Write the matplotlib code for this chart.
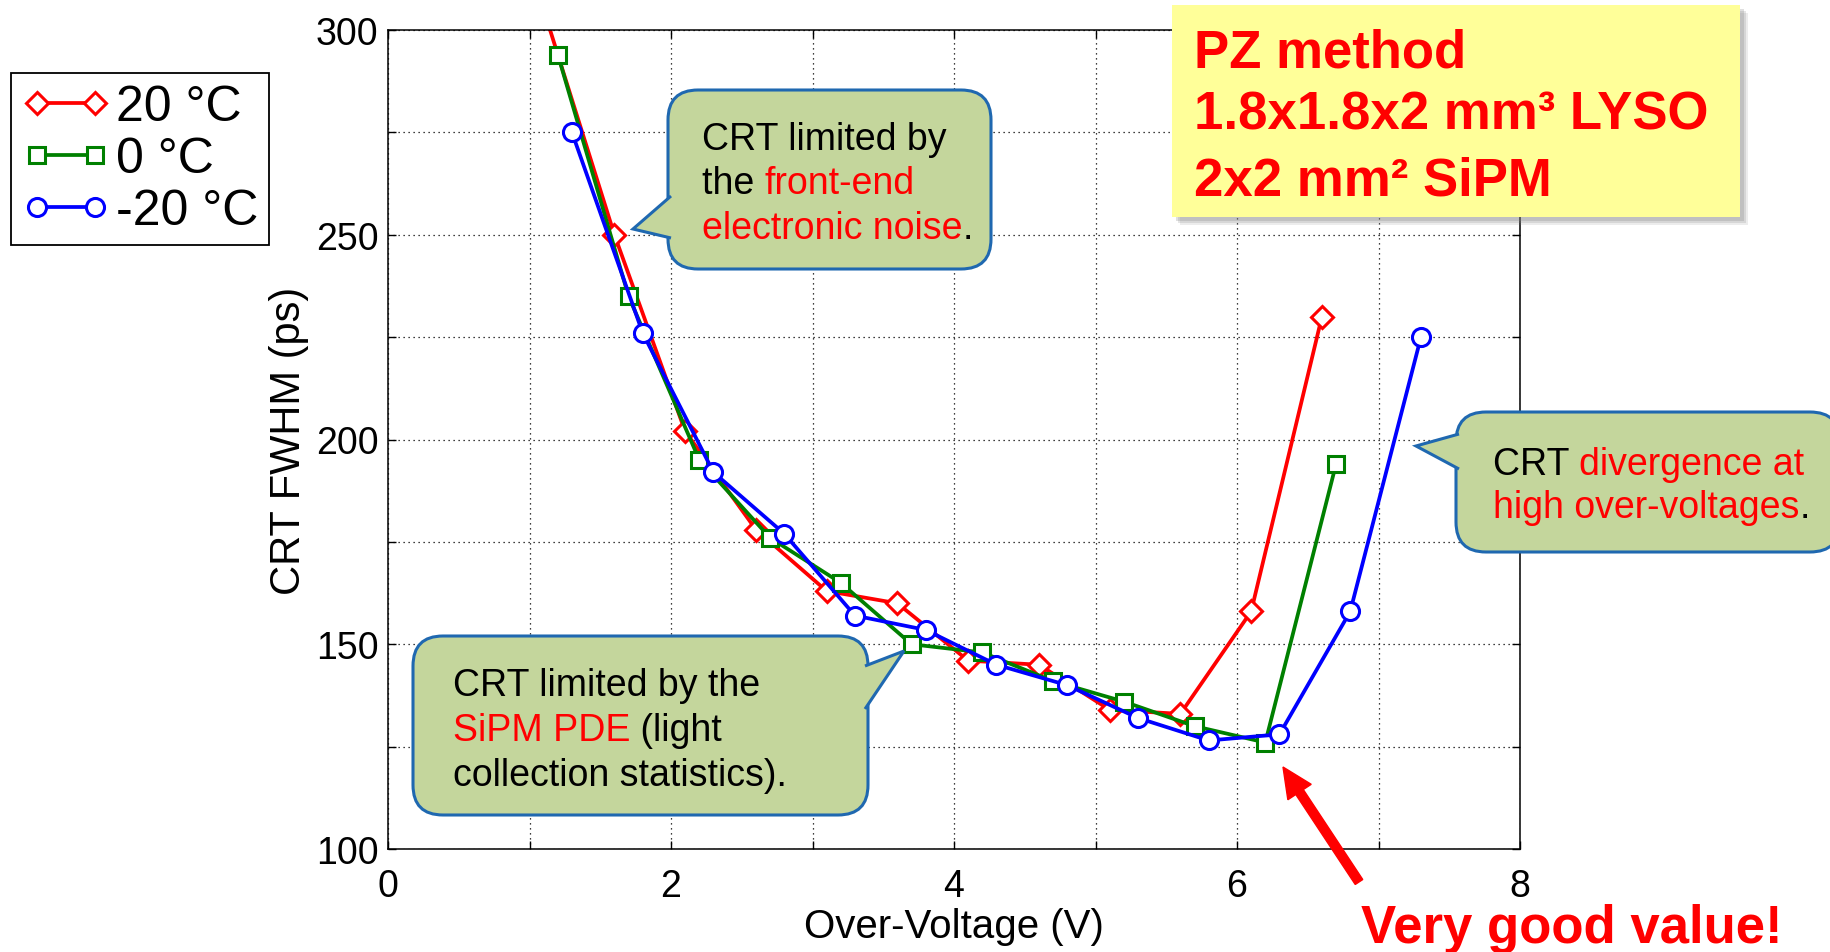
import matplotlib
matplotlib.use("Agg")
import matplotlib.pyplot as plt
from matplotlib.patches import FancyBboxPatch, Polygon, Rectangle, FancyArrow

plt.rcParams['font.family'] = ['Liberation Sans', 'DejaVu Sans']

# CRT FWHM (ps) vs over-voltage (V) for three temperatures
v_20 = [1.1, 1.6, 2.1, 2.6, 3.1, 3.6, 4.1, 4.6, 5.1, 5.6, 6.1, 6.6]
crt_20 = [305, 250, 202, 178, 163, 160, 146, 145, 134, 133, 158, 230]
v_0 = [1.2, 1.7, 2.2, 2.7, 3.2, 3.7, 4.2, 4.7, 5.2, 5.7, 6.2, 6.7]
crt_0 = [294, 235, 195, 176, 165, 150, 148, 141, 136, 130, 126, 194]
v_m20 = [1.3, 1.8, 2.3, 2.8, 3.3, 3.8, 4.3, 4.8, 5.3, 5.8, 6.3, 6.8, 7.3]
crt_m20 = [275, 226, 192, 177, 157, 153.5, 145, 140, 132, 126.5, 128, 158, 225]

labels = ["20 °C", "0 °C", "-20 °C"]
x_ticks = list(range(0, 9))
y_ticks = list(range(100, 301, 25))

W, H = 1830, 953
fig = plt.figure(figsize=(W / 100, H / 100), dpi=100)
ax = fig.add_axes([388 / W, 1 - 850 / H, (1520 - 388) / W, (850 - 31) / H])

ax.plot(v_20, crt_20, color="red", lw=2.7, marker="D", ms=11, mfc="white", mew=2.2, label=labels[0])
ax.plot(v_0, crt_0, color="#008000", lw=2.7, marker="s", ms=12, mfc="white", mew=2.2, label=labels[1])
ax.plot(v_m20, crt_m20, color="blue", lw=2.7, marker="o", ms=13, mfc="white", mew=2.2, label=labels[2])

ax.set_xlim(0, 8)
ax.set_ylim(100, 300)
ax.set_xticks(x_ticks)
ax.set_xticklabels([str(v) if v % 2 == 0 else "" for v in x_ticks])
ax.set_yticks(y_ticks)
ax.set_yticklabels([str(v) if v % 50 == 0 else "" for v in y_ticks])
ax.tick_params(direction="in", length=6, width=1, labelsize=27, top=True, right=True)
ax.tick_params(axis="x", pad=14)
ax.tick_params(axis="y", pad=7)
ax.grid(True, color="k", linestyle=(0, (1, 3)), linewidth=0.9)
for s in ax.spines.values():
    s.set_linewidth(1.1)
ax.set_xlabel("Over-Voltage (V)", fontsize=29, labelpad=2)
ax.set_ylabel("CRT FWHM (ps)", fontsize=30, labelpad=5)

leg = ax.legend(loc="upper left", bbox_to_anchor=(11 / W, 1 - 74 / H), bbox_transform=fig.transFigure,
                fontsize=36, numpoints=2, handlelength=1.75, handletextpad=0.12, labelspacing=0.12,
                borderpad=0.22, borderaxespad=0, fancybox=False, edgecolor="k", framealpha=1)
leg.get_frame().set_linewidth(1.3)

# overlay in pixel coordinates for the annotations
ov = fig.add_axes([0, 0, 1, 1], zorder=10)
ov.set_xlim(0, W)
ov.set_ylim(H, 0)
ov.axis("off")
ov.patch.set_visible(False)

FILL = "#C4D69C"
EDGE = "#1F68B0"
renderer = fig.canvas.get_renderer()


def text_width(s, **kw):
    t = ov.text(0, 0, s, **kw)
    w = t.get_window_extent(renderer=renderer).width
    t.remove()
    return w


def rich_line(x, y, parts, **kw):
    prefix = ""
    ref = text_width("I", **kw)
    for txt, col in parts:
        dx = text_width(prefix + "I", **kw) - ref if prefix else 0
        ov.text(x + dx, y, txt, color=col, va="baseline", ha="left", zorder=8, **kw)
        prefix += txt


def callout(x0, y0, x1, y1, tip, base):
    ov.add_patch(FancyBboxPatch((x0, y0), x1 - x0, y1 - y0, boxstyle="round,pad=0,rounding_size=30",
                                fc=FILL, ec=EDGE, lw=2.2, zorder=5))
    ov.add_patch(Polygon([base[0], tip, base[1]], closed=False, fc=FILL, ec=EDGE, lw=2.2,
                         zorder=6, joinstyle="miter"))


callout(668, 91, 991, 270, (633, 230), [(671, 197), (671, 239)])
for yb, parts in zip([150, 194, 239], [[("CRT limited by", "k")],
                                      [("the ", "k"), ("front-end", "red")],
                                      [("electronic noise", "red"), (".", "k")]]):
    rich_line(702, yb, parts, fontsize=27)

callout(413, 637, 868, 816, (904, 652), [(865, 667), (865, 710)])
for yb, parts in zip([696, 741, 786], [[("CRT limited by the", "k")],
                                      [("SiPM PDE", "red"), (" (light", "k")],
                                      [("collection statistics).", "k")]]):
    rich_line(453, yb, parts, fontsize=27)

callout(1456, 413, 1840, 553, (1416, 447), [(1459, 435), (1459, 470)])
for yb, parts in zip([475, 518], [[("CRT ", "k"), ("divergence at", "red")],
                                 [("high over-voltages", "red"), (".", "k")]]):
    rich_line(1493, yb, parts, fontsize=27)

# yellow info box with soft shadow
for off, a in [(8, 0.15), (6, 0.2), (4, 0.25)]:
    ov.add_patch(Rectangle((1172 + off, 6 + off), 568, 212, fc="gray", ec="none", alpha=a, zorder=4))
ov.add_patch(Rectangle((1172, 6), 568, 212, fc="#FFFF99", ec="none", zorder=5))
for yb, txt in zip([67, 130, 195], ["PZ method", "1.8x1.8x2 mm³ LYSO", "2x2 mm² SiPM"]):
    ov.text(1194, yb, txt, color="red", fontsize=38, fontweight="bold", va="baseline", ha="left", zorder=8)

ov.add_patch(FancyArrow(1359, 883, 1283 - 1359, 768 - 883, width=9, head_width=28, head_length=30,
                        length_includes_head=True, color="red", zorder=8))
ov.text(1361, 943, "Very good value!", color="red", fontsize=38, fontweight="bold",
        va="baseline", ha="left", zorder=8)

fig.savefig("out.png", dpi=100)
plt.close(fig)
